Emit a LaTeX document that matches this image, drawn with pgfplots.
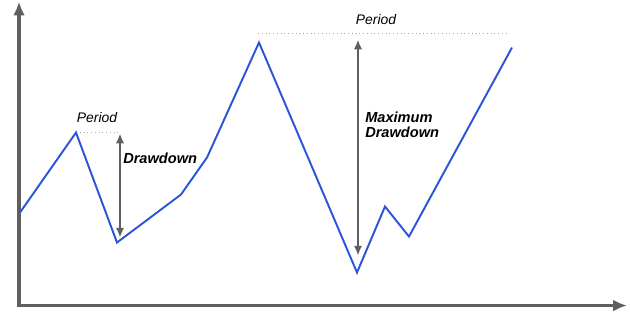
\documentclass[border=0pt]{standalone}
\usepackage{pgfplots}
\pgfplotsset{compat=1.18}
\usepackage{fontspec}
\setmainfont{Liberation Sans}
\usetikzlibrary{arrows.meta}
\definecolor{lineblue}{HTML}{2B55D9}
\definecolor{axgray}{HTML}{5F5F5F}
\begin{document}
\begin{tikzpicture}
\begin{axis}[
  scale only axis, width=453.6pt, height=233.28pt,
  xmin=0, xmax=630, ymin=0, ymax=324,
  hide axis, clip=false,
]
\path (axis cs:0,0) rectangle (axis cs:630,324);
% axes
\draw[axgray, line width=2.2pt, -{Latex[length=10pt,width=8.5pt]}] (axis cs:19,18) -- (axis cs:19,323);
\draw[axgray, line width=2.2pt, -{Latex[length=10pt,width=8.5pt]}] (axis cs:17.5,19) -- (axis cs:627,19);
% dotted period lines
\draw[gray!70, dotted, line width=0.7pt] (axis cs:76,192) -- (axis cs:120,192);
\draw[gray!70, dotted, line width=0.7pt] (axis cs:258,291) -- (axis cs:508,291);
% drawdown arrows
\draw[axgray, line width=1.5pt, {Latex[length=7pt,width=6pt]}-{Latex[length=7pt,width=6pt]}] (axis cs:120,191) -- (axis cs:120,87);
\draw[axgray, line width=1.5pt, {Latex[length=7pt,width=6pt]}-{Latex[length=7pt,width=6pt]}] (axis cs:358,285) -- (axis cs:358,69);
% series
\addplot[lineblue, line width=1.4pt, mark=none] coordinates {
(20,112) (76,192) (117,82) (181,130) (207,167) (259,282) (357,52) (385,118) (409,88) (512,277)
};
% labels
\node[font=\fontsize{10}{12}\selectfont\itshape] at (axis cs:97,207) {Period};
\node[font=\fontsize{10}{12}\selectfont\itshape] at (axis cs:376,305) {Period};
\node[font=\fontsize{10.5}{12.5}\selectfont\bfseries\itshape, anchor=west, inner sep=0pt] at (axis cs:123,166) {Drawdown};
\node[font=\fontsize{10.5}{11}\selectfont\bfseries\itshape, anchor=west, align=left, inner sep=0pt] at (axis cs:365,200) {Maximum\\Drawdown};
\end{axis}
\end{tikzpicture}
\end{document}
